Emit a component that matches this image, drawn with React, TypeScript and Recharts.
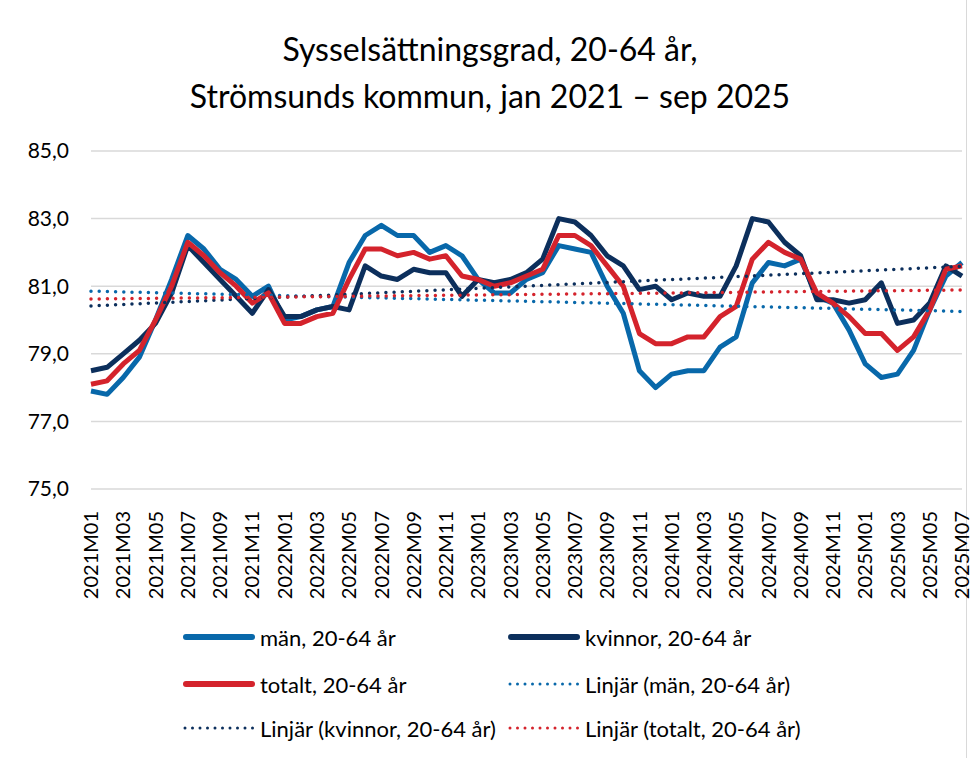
import { FC } from 'react';
import { LineChart, Line, XAxis, YAxis, CartesianGrid } from 'recharts';

const categories = [
  '2021M01', '2021M02', '2021M03', '2021M04', '2021M05', '2021M06', '2021M07', '2021M08', '2021M09', '2021M10', '2021M11', '2021M12',
  '2022M01', '2022M02', '2022M03', '2022M04', '2022M05', '2022M06', '2022M07', '2022M08', '2022M09', '2022M10', '2022M11', '2022M12',
  '2023M01', '2023M02', '2023M03', '2023M04', '2023M05', '2023M06', '2023M07', '2023M08', '2023M09', '2023M10', '2023M11', '2023M12',
  '2024M01', '2024M02', '2024M03', '2024M04', '2024M05', '2024M06', '2024M07', '2024M08', '2024M09', '2024M10', '2024M11', '2024M12',
  '2025M01', '2025M02', '2025M03', '2025M04', '2025M05', '2025M06', '2025M07',
];

const man = [
  77.9, 77.8, 78.3, 78.9, 80.0, 81.2, 82.5, 82.1, 81.5, 81.2, 80.7, 81.0,
  80.0, 80.1, 80.3, 80.4, 81.7, 82.5, 82.8, 82.5, 82.5, 82.0, 82.2, 81.9,
  81.2, 80.8, 80.8, 81.2, 81.4, 82.2, 82.1, 82.0, 81.0, 80.2, 78.5, 78.0,
  78.4, 78.5, 78.5, 79.2, 79.5, 81.1, 81.7, 81.6, 81.8, 80.7, 80.5, 79.7,
  78.7, 78.3, 78.4, 79.1, 80.3, 81.3, 81.7,
];

const kvinnor = [
  78.5, 78.6, 79.0, 79.4, 79.9, 80.8, 82.2, 81.7, 81.2, 80.7, 80.2, 80.9,
  80.1, 80.1, 80.3, 80.4, 80.3, 81.6, 81.3, 81.2, 81.5, 81.4, 81.4, 80.7,
  81.2, 81.1, 81.2, 81.4, 81.8, 83.0, 82.9, 82.5, 81.9, 81.6, 80.9, 81.0,
  80.6, 80.8, 80.7, 80.7, 81.6, 83.0, 82.9, 82.3, 81.9, 80.6, 80.6, 80.5,
  80.6, 81.1, 79.9, 80.0, 80.5, 81.6, 81.3,
];

const totalt = [
  78.1, 78.2, 78.7, 79.1, 80.0, 81.0, 82.3, 81.9, 81.4, 81.0, 80.5, 80.8,
  79.9, 79.9, 80.1, 80.2, 81.2, 82.1, 82.1, 81.9, 82.0, 81.8, 81.9, 81.3,
  81.2, 81.0, 81.1, 81.3, 81.5, 82.5, 82.5, 82.2, 81.6, 81.0, 79.6, 79.3,
  79.3, 79.5, 79.5, 80.1, 80.4, 81.8, 82.3, 82.0, 81.8, 80.8, 80.5, 80.1,
  79.6, 79.6, 79.1, 79.5, 80.3, 81.5, 81.6,
];

const yTicks = [75, 77, 79, 81, 83, 85];

const BLUE = '#0868AA';
const NAVY = '#0C2F5C';
const RED = '#D4232C';
const FONT = 'Lato, sans-serif';

// Excel-style linear trendline (least squares over the category index)
const linear = (values: number[]) => {
  const n = values.length;
  const mx = (n - 1) / 2;
  const my = values.reduce((a, b) => a + b, 0) / n;
  let num = 0;
  let den = 0;
  values.forEach((v, i) => {
    num += (i - mx) * (v - my);
    den += (i - mx) * (i - mx);
  });
  const slope = num / den;
  return values.map((_, i) => my + slope * (i - mx));
};

const manTrend = linear(man);
const kvinnorTrend = linear(kvinnor);
const totaltTrend = linear(totalt);

const data = categories.map((name, i) => ({
  name,
  man: man[i],
  kvinnor: kvinnor[i],
  totalt: totalt[i],
  manTrend: manTrend[i],
  kvinnorTrend: kvinnorTrend[i],
  totaltTrend: totaltTrend[i],
}));

const XTick = ({ x, y, payload }: any) => (
  <text
    x={x}
    y={y + 14}
    transform={`rotate(-90, ${x}, ${y + 14})`}
    textAnchor="end"
    dy="0.36em"
    fontSize={20}
    fontFamily={FONT}
    fill="#000"
  >
    {payload.value}
  </text>
);

const legendItems = [
  { label: 'män, 20-64 år', color: BLUE, dotted: false, left: 183, top: 637 },
  { label: 'kvinnor, 20-64 år', color: NAVY, dotted: false, left: 508, top: 637 },
  { label: 'totalt, 20-64 år', color: RED, dotted: false, left: 183, top: 684 },
  { label: 'Linjär (män, 20-64 år)', color: BLUE, dotted: true, left: 508, top: 684 },
  { label: 'Linjär (kvinnor, 20-64 år)', color: NAVY, dotted: true, left: 183, top: 728 },
  { label: 'Linjär (totalt, 20-64 år)', color: RED, dotted: true, left: 508, top: 728 },
];

const App: FC = () => {
  return (
    <div
      style={{
        position: 'absolute',
        left: 0,
        top: 0,
        width: 978,
        height: 758,
        background: '#fff',
        fontFamily: FONT,
      }}
    >
      <div
        style={{
          position: 'absolute',
          left: 0,
          top: 25,
          width: 980,
          textAlign: 'center',
          fontSize: 32,
          lineHeight: '47px',
          color: '#000',
        }}
      >
        Sysselsättningsgrad, 20-64 år,
        <br />
        Strömsunds kommun, jan 2021 – sep 2025
      </div>

      <div style={{ position: 'absolute', left: 966, top: 0, width: 1, height: 758, background: '#d9d9d9' }} />

      <LineChart
        width={978}
        height={758}
        data={data}
        margin={{ top: 151, right: 16, left: 0, bottom: 149 }}
      >
        <CartesianGrid vertical={false} stroke="#d9d9d9" strokeWidth={1.5} />
        <XAxis
          dataKey="name"
          interval={1}
          height={120}
          axisLine={false}
          tickLine={false}
          tick={<XTick />}
        />
        <YAxis
          domain={[75, 85]}
          ticks={yTicks}
          width={91}
          axisLine={false}
          tickLine={false}
          tickMargin={16}
          tickFormatter={(v: number) => v.toFixed(1).replace('.', ',')}
          tick={{ fill: '#000', fontSize: 21, fontFamily: FONT }}
        />

        <Line dataKey="man" stroke={BLUE} strokeWidth={5} dot={false} isAnimationActive={false} strokeLinejoin="round" />
        <Line dataKey="kvinnor" stroke={NAVY} strokeWidth={5} dot={false} isAnimationActive={false} strokeLinejoin="round" />
        <Line dataKey="totalt" stroke={RED} strokeWidth={5} dot={false} isAnimationActive={false} strokeLinejoin="round" />

        {/* Linjära trendlinjer */}
        <Line dataKey="manTrend" stroke={BLUE} strokeWidth={3.5} strokeDasharray="0 8.2" strokeLinecap="round" dot={false} isAnimationActive={false} />
        <Line dataKey="kvinnorTrend" stroke={NAVY} strokeWidth={3.5} strokeDasharray="0 8.2" strokeLinecap="round" dot={false} isAnimationActive={false} />
        <Line dataKey="totaltTrend" stroke={RED} strokeWidth={3.5} strokeDasharray="0 8.2" strokeLinecap="round" dot={false} isAnimationActive={false} />
      </LineChart>

      {legendItems.map((item) => (
        <div
          key={item.label}
          style={{
            position: 'absolute',
            left: item.left,
            top: item.top - 15,
            height: 30,
            display: 'flex',
            alignItems: 'center',
            fontSize: 22,
            color: '#000',
            whiteSpace: 'nowrap',
          }}
        >
          <svg width={72} height={10} style={{ marginRight: 5 }}>
            {item.dotted ? (
              <line x1={2} y1={5} x2={70} y2={5} stroke={item.color} strokeWidth={3} strokeDasharray="0 7.5" strokeLinecap="round" />
            ) : (
              <line x1={3} y1={5} x2={69} y2={5} stroke={item.color} strokeWidth={6} strokeLinecap="round" />
            )}
          </svg>
          {item.label}
        </div>
      ))}
    </div>
  );
};

export default App;
